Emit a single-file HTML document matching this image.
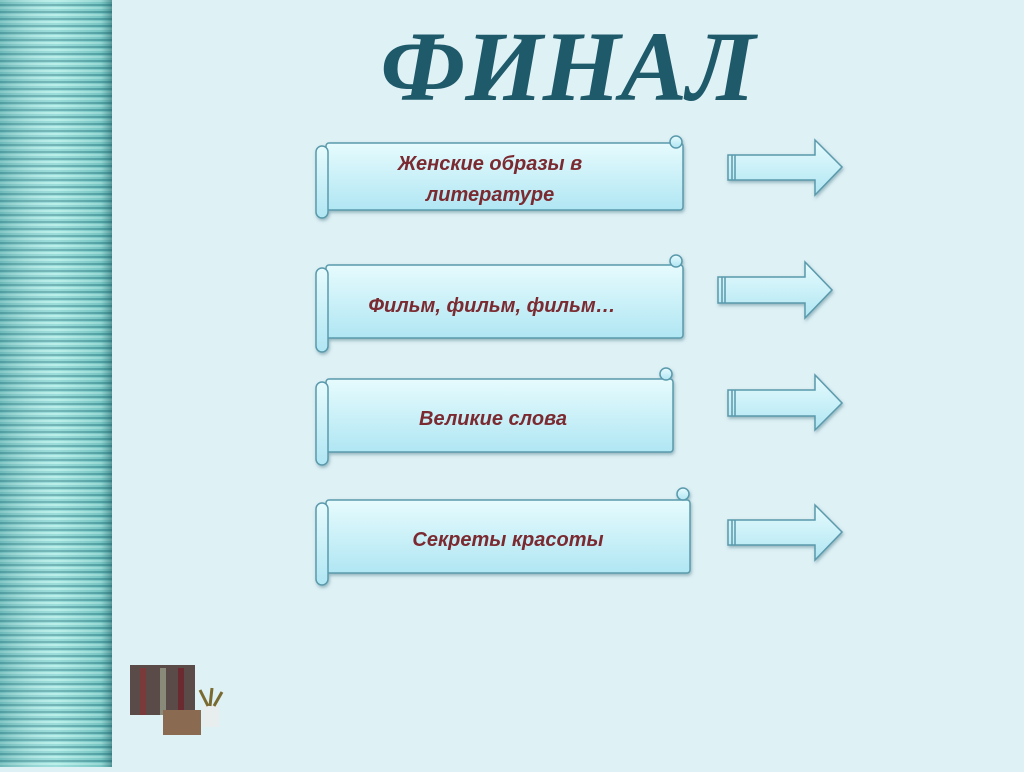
<!DOCTYPE html>
<html><head><meta charset="utf-8"><style>
html,body{margin:0;padding:0;}
body{width:1024px;height:767px;overflow:hidden;background:#def1f5;}
</style></head><body>
<svg width="1024" height="767" xmlns="http://www.w3.org/2000/svg">
<defs>
<pattern id="st" width="112" height="7" patternUnits="userSpaceOnUse">
<rect width="112" height="7" fill="#8ad8d4"/>
<rect y="4" width="112" height="2" fill="#5aa8aa"/>
<rect y="0" width="112" height="2" fill="#b0ece6"/>
</pattern>
<linearGradient id="sh" x1="0" x2="1">
<stop offset="0" stop-color="#3f8a90" stop-opacity=".4"/>
<stop offset=".5" stop-color="#ffffff" stop-opacity=".15"/>
<stop offset=".9" stop-color="#2f7f85" stop-opacity=".2"/>
<stop offset="1" stop-color="#1f5f66" stop-opacity=".6"/>
</linearGradient>
<linearGradient id="bx" x1="0" y1="0" x2="0" y2="1">
<stop offset="0" stop-color="#e6fbfd"/>
<stop offset="1" stop-color="#b0e6f3"/>
</linearGradient>
<filter id="ds" x="-5%" y="-10%" width="110%" height="130%">
<feDropShadow dx="1" dy="2" stdDeviation="1.5" flood-color="#4a7a88" flood-opacity=".5"/>
</filter>
</defs>
<rect width="112" height="767" fill="url(#st)"/>
<rect width="112" height="767" fill="url(#sh)"/>
<text x="568" y="100" text-anchor="middle" font-family="Liberation Serif,serif" font-weight="bold" font-style="italic" font-size="100" fill="#1f5a6b" textLength="375" lengthAdjust="spacingAndGlyphs">ФИНАЛ</text>

<g stroke="#5a9aac" stroke-width="1.5" fill="url(#bx)" filter="url(#ds)">
<rect x="326" y="143" width="357" height="67" rx="3"/>
<rect x="316" y="146" width="12" height="72" rx="6"/>
<circle cx="676" cy="142" r="6"/>
<rect x="326" y="265" width="357" height="73" rx="3"/>
<rect x="316" y="268" width="12" height="84" rx="6"/>
<circle cx="676" cy="261" r="6"/>
<rect x="326" y="379" width="347" height="73" rx="3"/>
<rect x="316" y="382" width="12" height="83" rx="6"/>
<circle cx="666" cy="374" r="6"/>
<rect x="326" y="500" width="364" height="73" rx="3"/>
<rect x="316" y="503" width="12" height="82" rx="6"/>
<circle cx="683" cy="494" r="6"/>
</g>
<g font-family="Liberation Sans,sans-serif" font-weight="bold" font-style="italic" font-size="20" fill="#7a2a30" text-anchor="middle">
<text x="490" y="170">Женские образы в</text>
<text x="490" y="201">литературе</text>
<text x="492" y="312">Фильм, фильм, фильм…</text>
<text x="493" y="425">Великие слова</text>
<text x="508" y="546">Секреты красоты</text>
</g>
<g stroke="#5a9aac" stroke-width="1.5" fill="url(#bx)" filter="url(#ds)">
<path d="M728 155 H815 V140 L842 167 L815 195 V180 H728 Z"/>
<path d="M718 277 H805 V262 L832 290 L805 318 V303 H718 Z"/>
<path d="M728 390 H815 V375 L842 403 L815 430 V416 H728 Z"/>
<path d="M728 520 H815 V505 L842 532 L815 560 V545 H728 Z"/>
</g>
<path d="M732 155V180M735 155V180M722 277V303M725 277V303M732 390V416M735 390V416M732 520V545M735 520V545" fill="none" stroke="#5a9aac" stroke-width="1.5"/>
<g>
<rect x="130" y="665" width="65" height="50" fill="#5a4a48"/>
<rect x="140" y="668" width="6" height="47" fill="#7a3a3a"/>
<rect x="160" y="668" width="6" height="47" fill="#8a8a7a"/>
<rect x="178" y="668" width="6" height="47" fill="#6a2a30"/>
<rect x="163" y="710" width="38" height="25" fill="#8a6a50"/>
<rect x="203" y="705" width="16" height="22" fill="#e8eeee"/>
<path d="M200 690 L208 706 M212 688 L210 706 M222 692 L214 706" stroke="#7a6a30" stroke-width="3"/>
</g>
</svg>
</body></html>
